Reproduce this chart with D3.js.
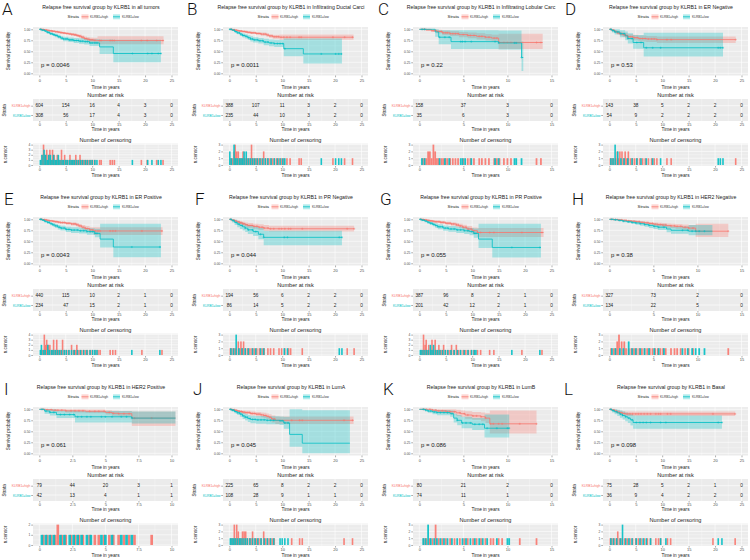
<!DOCTYPE html>
<html><head><meta charset="utf-8">
<script src="https://cdn.jsdelivr.net/npm/d3@7"></script>
<style>body{margin:0;background:#fff}</style>
</head><body>
<svg id="c" width="750" height="560"></svg>
<script>
// ---------------- DATA ----------------
const panelLetters = ["A","B","C","D","E","F","G","H","I","J","K","L"];
const subgroups = ["all tumors","Infiltrating Ductal Carci","Infiltrating Lobular Carc","ER Negative","ER Positive","PR Negative","PR Positive","HER2 Negative","HER2 Positive","LumA","LumB","Basal"];
const pValues = ["0.0046","0.0011","0.22","0.53","0.0043","0.044","0.055","0.38","0.061","0.045","0.086","0.098"];
const strataNames = ["KLRB1=high","KLRB1=low"];
const B25 = [0,5,10,15,20,25], B15 = [0,5,10,15], B10 = [0,2.5,5,7.5,10];
const xBreaks = [B25,B25,B15,B25,B25,B25,B25,B15,B10,B25,B15,B25];
const yBreaks = [0,0.25,0.5,0.75,1];
const riskHigh = [[604,154,16,4,3,0],[388,107,11,3,2,0],[158,37,3,0],[143,38,5,2,2,0],[440,115,10,2,1,0],[194,56,6,2,2,0],[387,96,8,2,1,0],[327,73,2,0],[79,44,20,3,1],[225,65,8,2,2,0],[80,21,2,0],[75,28,5,2,1,0]];
const riskLow  = [[308,56,17,4,3,0],[235,44,10,3,2,0],[35,6,3,0],[54,9,2,2,2,0],[234,47,15,2,1,0],[86,14,5,2,2,0],[201,42,12,2,1,0],[134,22,5,0],[42,13,4,1,1],[108,28,9,1,1,0],[74,11,1,0],[36,9,4,2,2,0]];

// Kaplan-Meier steps: [time, survival, lower CI, upper CI]
const survHigh = [
 [[0,1,1,1],[0.5,0.995,0.99,1],[1,0.985,0.975,0.995],[1.5,0.975,0.96,0.99],[2,0.965,0.95,0.98],[2.5,0.955,0.94,0.97],[3,0.945,0.93,0.96],[3.5,0.935,0.915,0.955],[4,0.925,0.905,0.945],[4.5,0.915,0.895,0.935],[5,0.905,0.88,0.93],[5.5,0.895,0.87,0.92],[6,0.885,0.855,0.915],[6.5,0.875,0.845,0.905],[7,0.86,0.825,0.895],[7.5,0.845,0.81,0.88],[8,0.82,0.78,0.86],[8.5,0.79,0.745,0.835],[9,0.775,0.725,0.825],[9.5,0.76,0.705,0.815],[10.2,0.75,0.69,0.81],[11,0.745,0.66,0.84],[23.5,0.745,0.66,0.84]],
 [[0,1,1,1],[0.5,0.99,0.98,1],[1,0.98,0.965,0.995],[1.5,0.97,0.95,0.985],[2,0.96,0.94,0.98],[2.5,0.95,0.93,0.97],[3,0.94,0.92,0.965],[3.5,0.93,0.905,0.955],[4,0.92,0.895,0.945],[5,0.905,0.875,0.935],[6,0.89,0.855,0.925],[7,0.87,0.83,0.91],[7.5,0.85,0.81,0.89],[8.2,0.83,0.785,0.875],[9.5,0.82,0.765,0.88],[23.5,0.82,0.765,0.88]],
 [[0,1,1,1],[0.8,0.99,0.97,1],[1.4,0.97,0.94,1],[2,0.95,0.91,0.99],[2.6,0.92,0.87,0.97],[3.5,0.9,0.845,0.955],[4.5,0.88,0.82,0.94],[5.5,0.86,0.795,0.925],[6.5,0.84,0.77,0.91],[7.5,0.82,0.745,0.895],[8.2,0.8,0.72,0.88],[9,0.7,0.55,0.9],[14,0.7,0.55,0.9]],
 [[0,1,1,1],[0.5,0.98,0.96,1],[1,0.95,0.92,0.985],[1.5,0.92,0.88,0.96],[2,0.9,0.855,0.945],[2.5,0.88,0.83,0.93],[3,0.86,0.805,0.915],[3.5,0.83,0.77,0.89],[4.5,0.81,0.745,0.875],[5.5,0.79,0.72,0.86],[7,0.78,0.71,0.85],[9,0.765,0.69,0.835],[23.9,0.765,0.69,0.835]],
 [[0,1,1,1],[0.5,0.995,0.99,1],[1,0.985,0.975,0.995],[1.5,0.975,0.96,0.99],[2,0.965,0.95,0.98],[2.5,0.955,0.935,0.975],[3,0.945,0.925,0.965],[3.5,0.935,0.91,0.96],[4,0.925,0.9,0.95],[5,0.91,0.88,0.94],[6,0.895,0.86,0.93],[7,0.875,0.835,0.915],[7.5,0.85,0.805,0.895],[8,0.82,0.77,0.87],[8.7,0.79,0.735,0.845],[9.5,0.76,0.7,0.82],[10.3,0.735,0.645,0.82],[23.3,0.735,0.645,0.82]],
 [[0,1,1,1],[0.5,0.98,0.96,1],[1,0.96,0.93,0.99],[1.5,0.94,0.905,0.975],[2,0.92,0.88,0.96],[2.5,0.9,0.855,0.945],[3,0.88,0.83,0.93],[3.5,0.86,0.81,0.915],[4.5,0.84,0.785,0.9],[5.5,0.82,0.76,0.885],[6.5,0.8,0.735,0.87],[7.5,0.785,0.72,0.855],[23.6,0.785,0.72,0.855]],
 [[0,1,1,1],[0.5,0.995,0.985,1],[1,0.985,0.97,0.995],[1.5,0.975,0.955,0.99],[2,0.965,0.945,0.985],[2.5,0.955,0.93,0.975],[3,0.945,0.92,0.97],[4,0.93,0.9,0.96],[5,0.91,0.875,0.945],[6,0.895,0.855,0.93],[7,0.87,0.825,0.915],[7.5,0.85,0.8,0.9],[8.2,0.82,0.765,0.875],[9,0.78,0.715,0.845],[10,0.74,0.665,0.815],[11,0.7,0.6,0.8],[23.5,0.7,0.6,0.8]],
 [[0,1,1,1],[0.5,0.995,0.985,1],[1,0.985,0.97,1],[1.5,0.975,0.955,0.995],[2,0.965,0.94,0.985],[2.5,0.955,0.93,0.98],[3,0.945,0.915,0.97],[3.5,0.93,0.9,0.96],[4,0.92,0.885,0.95],[4.5,0.905,0.87,0.94],[5,0.89,0.85,0.93],[5.5,0.88,0.835,0.92],[6,0.87,0.825,0.915],[6.5,0.86,0.81,0.905],[7,0.85,0.8,0.9],[7.5,0.84,0.785,0.895],[8.3,0.82,0.76,0.88],[9,0.8,0.73,0.87],[9.8,0.73,0.6,0.9],[13.5,0.73,0.6,0.9]],
 [[0,1,1,1],[0.5,0.99,0.97,1],[1,0.98,0.95,1],[2,0.965,0.93,1],[3.5,0.955,0.915,0.995],[5,0.93,0.88,0.98],[5.5,0.91,0.855,0.965],[6,0.9,0.84,0.96],[7,0.8,0.62,0.95],[10.3,0.8,0.62,0.95]],
 [[0,1,1,1],[0.5,0.99,0.975,1],[1,0.975,0.955,0.995],[1.5,0.96,0.935,0.985],[2,0.95,0.92,0.98],[2.5,0.935,0.9,0.97],[3,0.925,0.885,0.965],[4,0.905,0.86,0.95],[5,0.89,0.84,0.94],[6,0.875,0.82,0.93],[6.5,0.86,0.8,0.92],[7,0.84,0.775,0.905],[7.5,0.82,0.75,0.89],[8,0.78,0.7,0.86],[8.7,0.75,0.665,0.835],[23.5,0.75,0.665,0.835]],
 [[0,1,1,1],[1.5,0.98,0.94,1],[2,0.965,0.92,1],[3,0.955,0.905,1],[3.5,0.945,0.89,1],[4.2,0.92,0.85,0.99],[4.7,0.9,0.825,0.975],[5.2,0.87,0.785,0.955],[6,0.85,0.76,0.94],[7,0.83,0.73,0.93],[7.5,0.8,0.69,0.91],[8,0.67,0.45,0.97],[13.3,0.67,0.45,0.97]],
 [[0,1,1,1],[0.5,0.985,0.96,1],[1,0.96,0.925,0.995],[1.5,0.94,0.9,0.98],[2,0.92,0.875,0.965],[2.5,0.905,0.855,0.955],[3,0.895,0.845,0.95],[23.8,0.895,0.845,0.95]]
];
const survLow = [
 [[0,1,1,1],[0.5,0.98,0.97,0.995],[1,0.96,0.94,0.98],[1.5,0.93,0.9,0.96],[2,0.9,0.87,0.935],[2.5,0.88,0.845,0.915],[3,0.86,0.82,0.9],[3.5,0.83,0.79,0.875],[4,0.8,0.755,0.85],[4.5,0.78,0.73,0.83],[5.5,0.76,0.71,0.815],[6.5,0.745,0.69,0.805],[7.5,0.73,0.67,0.795],[8.5,0.72,0.655,0.79],[9.5,0.69,0.62,0.775],[11.4,0.6,0.44,0.77],[14,0.45,0.25,0.76],[23,0.45,0.25,0.76]],
 [[0,1,1,1],[0.5,0.98,0.96,0.995],[1,0.95,0.92,0.98],[1.5,0.92,0.885,0.955],[2,0.89,0.85,0.93],[2.5,0.86,0.815,0.905],[3,0.84,0.79,0.89],[3.5,0.81,0.76,0.865],[4,0.78,0.725,0.84],[4.5,0.76,0.7,0.82],[5.5,0.74,0.675,0.805],[6.5,0.71,0.64,0.785],[7.5,0.69,0.615,0.77],[8.5,0.675,0.595,0.765],[10.3,0.56,0.39,0.79],[14,0.44,0.22,0.79],[21.3,0.44,0.22,0.79]],
 [[0,1,1,1],[1.8,0.94,0.83,1],[2.2,0.82,0.66,0.98],[3.6,0.72,0.55,0.98],[9,0.69,0.54,0.97],[11.6,0.36,0.05,0.72],[11.8,0.36,0.05,0.72]],
 [[0,1,1,1],[0.5,0.97,0.93,1],[1,0.94,0.88,1],[2,0.9,0.82,0.98],[3,0.85,0.75,0.95],[3.5,0.79,0.68,0.91],[4.5,0.7,0.56,0.87],[6.5,0.58,0.38,0.92],[21.5,0.58,0.38,0.92]],
 [[0,1,1,1],[0.5,0.98,0.965,0.995],[1,0.955,0.93,0.98],[1.5,0.93,0.9,0.96],[2,0.9,0.865,0.935],[2.5,0.875,0.835,0.915],[3,0.85,0.805,0.895],[3.5,0.82,0.77,0.87],[4,0.8,0.745,0.855],[5,0.77,0.71,0.83],[6,0.755,0.69,0.82],[7.5,0.74,0.675,0.81],[9,0.72,0.65,0.795],[10.5,0.68,0.59,0.785],[11.5,0.55,0.36,0.9],[14,0.37,0.14,0.9],[23,0.37,0.14,0.9]],
 [[0,1,1,1],[0.5,0.97,0.93,1],[1,0.93,0.87,0.99],[1.5,0.89,0.82,0.96],[2,0.86,0.78,0.94],[2.5,0.83,0.745,0.915],[3,0.8,0.71,0.895],[3.5,0.76,0.665,0.87],[4.5,0.72,0.62,0.84],[5.5,0.66,0.545,0.8],[6.5,0.59,0.41,0.74],[21.3,0.59,0.41,0.74]],
 [[0,1,1,1],[0.5,0.98,0.96,0.995],[1,0.96,0.935,0.985],[1.5,0.935,0.9,0.97],[2,0.91,0.87,0.95],[2.5,0.885,0.84,0.93],[3,0.86,0.81,0.91],[3.5,0.83,0.775,0.885],[4.5,0.8,0.74,0.86],[5.5,0.78,0.715,0.845],[7,0.76,0.69,0.83],[8.5,0.74,0.665,0.815],[9.5,0.72,0.64,0.8],[10.3,0.68,0.58,0.79],[11.2,0.55,0.35,0.9],[13.8,0.36,0.13,0.9],[23,0.36,0.13,0.9]],
 [[0,1,1,1],[0.5,0.99,0.975,1],[1,0.975,0.955,0.995],[1.5,0.96,0.935,0.985],[2,0.945,0.915,0.975],[2.5,0.93,0.895,0.965],[3,0.915,0.875,0.955],[3.5,0.9,0.855,0.945],[4,0.88,0.83,0.93],[4.5,0.86,0.805,0.915],[5,0.84,0.78,0.9],[5.5,0.82,0.755,0.885],[6.5,0.78,0.705,0.855],[7,0.75,0.67,0.835],[9,0.73,0.64,0.87],[11.7,0.73,0.64,0.87]],
 [[0,1,1,1],[0.4,0.96,0.9,1],[0.8,0.93,0.86,1],[1.3,0.88,0.8,0.97],[2.7,0.83,0.7,0.96],[7,0.8,0.68,0.95],[10.3,0.8,0.68,0.95]],
 [[0,1,1,1],[0.5,0.98,0.95,1],[1,0.95,0.91,0.99],[1.5,0.92,0.87,0.97],[2,0.89,0.83,0.95],[2.5,0.85,0.78,0.92],[3,0.82,0.745,0.895],[3.5,0.79,0.71,0.87],[4,0.77,0.685,0.855],[5,0.76,0.67,0.85],[7,0.75,0.66,0.84],[9.5,0.74,0.645,0.835],[10.3,0.69,0.56,0.83],[11.4,0.43,0.15,1],[13.8,0.23,0,0.98],[22.8,0.23,0,0.98]],
 [[0,1,1,1],[0.7,0.98,0.95,1],[1,0.96,0.92,1],[1.5,0.94,0.89,0.99],[2,0.925,0.865,0.985],[3.5,0.9,0.83,0.97],[3.9,0.8,0.7,0.9],[4.3,0.75,0.64,0.87],[4.8,0.69,0.57,0.83],[6,0.66,0.53,0.8],[7.4,0.57,0.36,0.88],[10.2,0.57,0.36,0.88]],
 [[0,1,1,1],[0.5,0.97,0.93,1],[1,0.945,0.89,1],[1.5,0.92,0.85,0.99],[2,0.89,0.81,0.97],[2.5,0.86,0.77,0.95],[3,0.83,0.73,0.93],[3.5,0.8,0.69,0.91],[4,0.76,0.63,0.89],[4.5,0.7,0.56,0.86],[21.3,0.7,0.56,0.86]]
];

// Censoring: [time, number censored]
const censHigh = [
 [[0.3,1],[0.6,2],[0.8,4],[1.1,2],[1.4,3],[1.7,2],[2.0,3],[2.3,1],[2.5,3],[2.8,2],[3.1,1],[3.4,2],[3.7,1],[4.0,1],[4.2,3],[4.5,1],[4.8,2],[5.1,1],[5.4,1],[5.8,2],[6.1,1],[6.4,1],[6.7,1],[6.9,2],[7.2,1],[7.5,1],[7.7,2],[8.0,1],[8.3,1],[8.6,1],[8.9,1],[9.2,1],[9.5,1],[9.8,1],[10.1,1],[10.5,1],[11.4,1],[11.7,1],[13.4,1],[13.8,1],[14.2,1],[19.3,1],[20.4,1],[22.2,1],[23.4,1]],
 [[0.3,1],[0.6,1],[0.9,2],[1.1,3],[1.4,2],[1.7,2],[2.0,1],[2.3,1],[2.6,2],[2.9,1],[3.2,1],[3.5,1],[3.9,1],[4.2,3],[4.5,1],[4.9,1],[5.2,1],[5.6,1],[6.0,1],[6.5,2],[6.9,1],[7.3,1],[7.7,1],[8.1,1],[8.5,1],[8.9,1],[9.3,1],[9.8,1],[10.3,1],[10.9,1],[11.5,1],[13.2,1],[13.6,1],[19.6,1],[21.8,1],[23.3,1]],
 [[0.4,1],[0.6,1],[0.8,1],[1.0,2],[1.2,2],[1.4,1],[1.6,3],[1.8,2],[2.0,1],[2.2,1],[2.5,1],[2.7,1],[3.0,1],[3.2,1],[3.5,1],[3.8,1],[4.1,1],[4.4,1],[5.0,1],[5.5,1],[5.8,1],[6.2,1],[6.8,1],[7.1,1],[7.5,1],[7.9,1],[8.5,1],[8.8,1],[9.1,1],[9.6,1],[10.0,1],[10.4,1],[13.3,1],[13.8,1]],
 [[0.2,1],[0.5,1],[0.8,1],[1.2,1],[1.5,2],[1.8,1],[2.0,2],[2.4,2],[2.7,1],[3.0,2],[3.3,1],[3.6,2],[4.0,1],[4.4,1],[4.8,1],[5.3,1],[5.8,1],[6.3,1],[6.8,1],[7.4,1],[8.0,1],[8.5,1],[9.0,1],[10.9,1],[11.7,1],[23.9,1]],
 [[0.3,1],[0.6,1],[0.95,4],[1.2,2],[1.4,3],[1.7,2],[2.0,2],[2.4,1],[2.7,3],[3.0,1],[3.3,3],[3.6,1],[4.0,1],[4.4,3],[4.8,1],[5.2,1],[5.6,1],[6.1,2],[6.5,1],[6.8,1],[7.1,2],[7.5,1],[7.9,1],[8.3,1],[8.7,1],[9.1,1],[9.6,1],[10.0,1],[10.6,1],[11.1,1],[11.5,1],[13.4,1],[13.9,1],[14.4,1],[19.4,1],[23.2,1]],
 [[0.2,1],[0.5,1],[0.9,1],[1.2,1],[1.7,2],[2.0,1],[2.2,2],[2.5,1],[2.7,2],[3.1,1],[3.5,1],[3.9,1],[4.3,1],[4.7,1],[5.2,1],[5.7,1],[6.2,1],[6.6,1],[7.3,1],[7.8,1],[8.4,1],[9.4,1],[9.9,1],[10.5,1],[11.2,1],[11.6,1],[13.8,1],[22.3,1],[23.6,1]],
 [[0.3,1],[0.6,1],[0.8,4],[1.1,2],[1.3,3],[1.6,1],[1.8,2],[2.1,1],[2.4,3],[2.7,1],[3.0,3],[3.3,1],[3.7,2],[4.0,1],[4.3,1],[4.6,2],[5.0,1],[5.4,1],[5.8,1],[6.1,2],[6.5,1],[7.0,2],[7.4,1],[7.8,1],[8.3,1],[8.8,1],[9.3,1],[9.8,1],[10.3,1],[11.0,1],[11.6,1],[13.3,1],[14.1,1],[19.4,1],[23.2,1]],
 [[0.2,1],[0.5,1],[0.7,1],[0.9,2],[1.1,3],[1.4,2],[1.7,2],[1.9,1],[2.2,1],[2.5,1],[2.8,1],[3.1,1],[3.4,1],[3.7,1],[4.0,1],[4.3,1],[4.6,1],[4.9,1],[5.2,1],[5.5,1],[5.8,1],[6.1,1],[6.4,1],[7.0,1],[7.4,1],[7.7,1],[8.1,1],[8.6,1],[9.0,1],[9.5,1],[13.5,1]],
 [[0.3,1],[0.6,1],[0.9,1],[1.2,1],[1.4,2],[1.7,1],[2.0,1],[2.4,1],[2.7,1],[3.0,1],[3.3,1],[3.8,1],[4.2,1],[4.5,1],[4.9,1],[5.3,1],[5.6,1],[6.0,1],[6.4,1],[6.8,1],[7.2,1],[8.5,1]],
 [[0.3,1],[0.6,1],[0.95,3],[1.2,1],[1.4,3],[1.7,2],[2.0,1],[2.3,1],[2.5,2],[2.8,2],[3.1,2],[3.4,1],[3.8,1],[4.1,1],[4.4,2],[4.8,1],[5.2,1],[5.6,1],[6.0,1],[6.5,2],[6.9,1],[7.3,1],[7.7,1],[8.1,1],[8.5,1],[11.8,1],[13.3,1],[13.8,1],[21.7,1],[23.3,1]],
 [[0.5,1],[0.8,1],[1.2,1],[1.5,1],[1.85,3],[2.2,1],[2.6,1],[3.0,1],[3.5,1],[4.0,1],[4.6,1],[5.1,1],[5.5,1],[6.1,1],[6.5,1],[7.0,1],[7.5,1],[8.1,1],[8.4,1],[9.0,1],[9.4,1],[11.4,1],[13.3,1]],
 [[0.2,1],[0.5,1],[0.9,1],[1.3,1],[1.6,2],[2.0,1],[2.4,1],[2.9,1],[3.4,1],[3.9,1],[4.4,1],[5.0,1],[5.5,1],[6.0,1],[6.6,1],[7.2,1],[7.8,1],[8.8,1],[9.3,1],[9.7,1],[11.0,1],[11.6,1],[19.6,1],[23.8,1]]
];
const censLow = [
 [[0.2,1],[0.5,2],[0.9,3],[1.2,2],[1.5,1],[1.8,2],[2.1,2],[2.4,1],[2.7,2],[3.0,1],[3.3,1],[3.6,2],[3.9,1],[4.3,1],[4.6,1],[5.0,1],[5.3,1],[5.7,1],[6.0,1],[6.3,1],[6.6,1],[7.0,1],[7.4,1],[7.8,1],[8.2,1],[8.7,1],[9.1,1],[9.6,1],[10.0,1],[10.5,1],[10.9,1],[17.6,1],[20.5,1],[21.3,1],[22.5,1],[23.0,1]],
 [[0.1,2],[0.4,1],[0.9,3],[1.2,1],[1.5,1],[1.9,1],[2.2,1],[2.5,1],[2.8,2],[3.2,2],[3.6,1],[4.0,1],[4.4,1],[4.8,1],[5.3,1],[5.8,1],[6.3,1],[6.8,1],[7.3,1],[7.9,1],[8.5,1],[9.1,1],[9.6,1],[10.1,1],[10.5,1],[17.4,1],[20.1,1],[20.7,1],[21.2,1]],
 [[0.3,1],[0.6,1],[2.3,1],[2.9,1],[3.4,1],[4.7,1],[4.9,1],[5.2,1],[5.9,1],[8.6,1],[9.0,1],[10.8,1],[11.0,1],[11.6,1]],
 [[0.3,1],[0.7,1],[1.1,3],[1.6,2],[2.2,1],[2.8,1],[3.5,1],[4.3,1],[5.2,1],[6.0,1],[7.0,1],[8.2,1],[9.7,1],[20.6,1],[21.0,1],[21.5,1]],
 [[0.2,1],[0.4,2],[0.8,1],[1.1,1],[1.6,2],[1.9,1],[2.3,1],[2.6,1],[3.0,1],[3.4,1],[3.8,1],[4.2,1],[4.7,1],[5.1,1],[5.6,1],[6.1,1],[6.6,1],[7.2,1],[7.8,1],[8.4,1],[9.0,1],[9.6,1],[10.1,1],[10.5,1],[10.9,1],[17.5,1],[22.8,1]],
 [[0.3,1],[0.8,1],[1.3,3],[1.8,1],[2.4,1],[3.0,1],[3.6,1],[4.4,1],[5.0,1],[5.9,1],[6.5,1],[10.4,1],[11.0,1],[20.8,1],[21.3,1]],
 [[0.2,1],[0.5,1],[0.9,1],[1.3,1],[1.7,1],[2.1,2],[2.4,1],[2.7,2],[3.1,1],[3.5,1],[3.9,1],[4.4,1],[4.9,1],[5.4,1],[6.0,1],[6.6,1],[7.2,1],[7.8,1],[8.5,1],[9.2,1],[9.9,1],[10.4,1],[10.7,1],[17.5,1],[22.8,1]],
 [[0.3,1],[0.7,1],[1.2,1],[1.6,1],[2.2,2],[2.6,1],[3.0,1],[3.5,1],[4.0,1],[4.5,1],[5.1,1],[5.6,1],[6.2,1],[8.3,1],[8.9,1],[9.4,1],[9.8,1],[10.2,1],[10.8,1]],
 [[0.2,1],[0.5,1],[0.8,1],[1.1,1],[1.6,1],[1.9,1],[2.3,1],[2.6,1],[2.9,1],[3.2,1],[3.6,1],[3.9,1],[4.7,1],[5.0,1],[5.5,1],[6.2,1],[6.6,1],[7.0,1]],
 [[0.2,1],[0.5,1],[0.8,1],[1.1,1],[1.5,1],[1.9,1],[2.2,1],[2.6,1],[3.0,1],[3.4,1],[3.9,1],[4.4,1],[4.9,1],[5.4,1],[6.0,1],[6.6,1],[7.2,1],[7.8,1],[8.4,1],[9.6,1],[10.0,1],[10.5,1],[11.1,1]],
 [[0.45,1],[0.7,1],[1.0,3],[1.3,1],[1.7,1],[2.0,1],[2.4,1],[2.8,1],[3.2,1],[3.7,1],[4.3,1],[4.9,1],[5.3,1],[5.8,1],[6.3,1],[6.8,1],[7.2,1],[7.7,1],[8.8,1],[10.0,1],[10.2,1]],
 [[0.3,1],[0.8,1],[1.4,1],[2.1,1],[2.5,3],[3.1,1],[3.7,1],[4.3,1],[5.1,1],[5.8,1],[6.4,1],[7.0,1],[7.8,1],[9.7,1],[10.7,1],[20.6,1],[21.3,1]]
];

// ---------------- LAYOUT / STYLE ----------------
const RED = "#F8766D", CYAN = "#00BFC4", PANEL = "#EBEBEB", FONT = "Liberation Sans, Arial, sans-serif";
const colX = [0,190,380,570], rowY = [0,190,380];
const letterDx = [2,-3,-2,-5,4,5,0,2,4,3,3,-6];
const svg = d3.select("#c");

function stepVal(curve, t){ let v = curve[0]; for (const p of curve) if (p[0] <= t) v = p; return v[1]; }

function styleAxis(a, fs){
  a.select(".domain").remove();
  a.selectAll(".tick line").attr("stroke","#333").attr("stroke-width",0.4);
  a.selectAll(".tick text").attr("font-size",fs).attr("fill","#4D4D4D").attr("font-family",FONT);
  a.attr("font-size",null).attr("font-family",null);
}
function label(g, txt, x, y, fs, opts={}){
  const t = g.append("text").attr("x",x).attr("y",y).attr("font-size",fs).attr("font-family",FONT)
    .attr("fill",opts.fill||"#1a1a1a").attr("text-anchor",opts.anchor||"middle").text(txt);
  if (opts.rotate) t.attr("transform",`rotate(-90,${x},${y})`);
  return t;
}

function drawPanel(i){
  const ox = colX[i%4], oy = rowY[Math.floor(i/4)];
  const g = svg.append("g").attr("transform",`translate(${ox},${oy})`);
  const br = xBreaks[i], xmax = br[br.length-1];
  const x = d3.scaleLinear().domain([0,xmax]).range([39.3,171.5]);
  const minors = br.slice(1).map((b,j)=>(b+br[j])/2);
  const L = 33, R = 178;

  // letter + title + legend
  g.append("text").attr("x",letterDx[i]).attr("y",15).attr("font-size",17).attr("font-weight",300)
    .attr("font-family","Roboto, Liberation Sans, sans-serif").attr("fill","#111").text(panelLetters[i]);
  label(g, "Relapse free survival group by KLRB1 in " + subgroups[i], 101, 8.5, 5.2);
  label(g, "Strata", 79, 18.2, 4.3, {anchor:"end"});
  [[RED,81.5,90],[CYAN,113,122]].forEach(([c,kx,lx],k)=>{
    g.append("rect").attr("x",kx).attr("y",14.3).attr("width",7).attr("height",5).attr("fill",c).attr("fill-opacity",0.3);
    g.append("line").attr("x1",kx).attr("x2",kx+7).attr("y1",16.8).attr("y2",16.8).attr("stroke",c).attr("stroke-width",0.8);
    label(g, strataNames[k], lx, 18, 3.2, {anchor:"start", fill:"#333"});
  });

  // ---- survival plot ----
  const y = d3.scaleLinear().domain([0,1]).range([73.3,29.3]);
  const top = 27.1, bot = 75.5;
  g.append("rect").attr("x",L).attr("y",top).attr("width",R-L).attr("height",bot-top).attr("fill",PANEL);
  [0.125,0.375,0.625,0.875].forEach(v=>g.append("line").attr("x1",L).attr("x2",R).attr("y1",y(v)).attr("y2",y(v)).attr("stroke","#fff").attr("stroke-width",0.3));
  minors.forEach(v=>g.append("line").attr("x1",x(v)).attr("x2",x(v)).attr("y1",top).attr("y2",bot).attr("stroke","#fff").attr("stroke-width",0.3));
  yBreaks.forEach(v=>g.append("line").attr("x1",L).attr("x2",R).attr("y1",y(v)).attr("y2",y(v)).attr("stroke","#fff").attr("stroke-width",0.6));
  br.forEach(v=>g.append("line").attr("x1",x(v)).attr("x2",x(v)).attr("y1",top).attr("y2",bot).attr("stroke","#fff").attr("stroke-width",0.6));
  const cid = "clip"+i;
  g.append("clipPath").attr("id",cid).append("rect").attr("x",L).attr("y",top).attr("width",R-L).attr("height",bot-top);
  const pg = g.append("g").attr("clip-path",`url(#${cid})`);
  const groups = [[survHigh[i],censHigh[i],RED],[survLow[i],censLow[i],CYAN]];
  groups.forEach(([curve,,c])=>{
    pg.append("path").datum(curve).attr("fill",c).attr("fill-opacity",0.3)
      .attr("d",d3.area().curve(d3.curveStepAfter).x(d=>x(d[0])).y0(d=>y(d[2])).y1(d=>y(d[3])));
  });
  groups.forEach(([curve,cens,c])=>{
    pg.append("path").datum(curve).attr("fill","none").attr("stroke",c).attr("stroke-width",0.8)
      .attr("d",d3.line().curve(d3.curveStepAfter).x(d=>x(d[0])).y(d=>y(d[1])));
    cens.forEach(([t])=>{
      const cx = x(t), cy = y(stepVal(curve,t));
      pg.append("path").attr("d",`M${cx-1.1},${cy}H${cx+1.1}M${cx},${cy-1.1}V${cy+1.1}`).attr("stroke",c).attr("stroke-width",0.45);
    });
  });
  label(g, "p = " + pValues[i], 41, 67.2, 6, {anchor:"start", fill:"#222"});
  const ay = g.append("g").attr("transform",`translate(${L},0)`).call(d3.axisLeft(y).tickValues(yBreaks).tickFormat(d3.format(".2f")).tickSize(1.8).tickPadding(0.8));
  styleAxis(ay, 3.3);
  const ax = g.append("g").attr("transform",`translate(0,${bot})`).call(d3.axisBottom(x).tickValues(br).tickFormat(d=>d).tickSize(1.8).tickPadding(1.4));
  styleAxis(ax, 4.0);
  label(g, "Time in years", 105.5, 88.6, 4.7);
  label(g, "Survival probability", 9.5, 51, 4.6, {rotate:true});

  // ---- risk table ----
  label(g, "Number at risk", 105.5, 97, 5.6);
  const rt = 99, rb = 121;
  const ys = d3.scalePoint().domain(strataNames).range([105.7,115]);
  g.append("rect").attr("x",L).attr("y",rt).attr("width",R-L).attr("height",rb-rt).attr("fill",PANEL);
  minors.forEach(v=>g.append("line").attr("x1",x(v)).attr("x2",x(v)).attr("y1",rt).attr("y2",rb).attr("stroke","#fff").attr("stroke-width",0.3));
  br.forEach(v=>g.append("line").attr("x1",x(v)).attr("x2",x(v)).attr("y1",rt).attr("y2",rb).attr("stroke","#fff").attr("stroke-width",0.6));
  strataNames.forEach(s=>g.append("line").attr("x1",L).attr("x2",R).attr("y1",ys(s)).attr("y2",ys(s)).attr("stroke","#fff").attr("stroke-width",0.6));
  [[riskHigh[i],strataNames[0]],[riskLow[i],strataNames[1]]].forEach(([vals,s])=>{
    vals.forEach((v,j)=>{
      g.append("text").attr("x",x(br[j])).attr("y",ys(s)).attr("dy","0.35em").attr("text-anchor","middle")
        .attr("font-size",4.7).attr("font-family",FONT).attr("fill","#1a1a1a").text(v);
    });
  });
  const ary = g.append("g").attr("transform",`translate(${L},0)`).call(d3.axisLeft(ys).tickSize(1.8).tickPadding(0.8));
  styleAxis(ary, 3.3);
  ary.selectAll(".tick text").attr("fill",(d,k)=>k===0?RED:CYAN);
  const arx = g.append("g").attr("transform",`translate(0,${rb})`).call(d3.axisBottom(x).tickValues(br).tickFormat(d=>d).tickSize(1.6).tickPadding(0.8));
  styleAxis(arx, 4.0);
  label(g, "Time in years", 105.5, 131.4, 4.7);
  label(g, "Strata", 6, 110.4, 4.6, {rotate:true});

  // ---- censoring plot ----
  label(g, "Number of censoring", 105.5, 142.2, 5.6);
  const ct = 143.6, cb = 166;
  const allC = censHigh[i].concat(censLow[i]);
  const cmax = d3.max(allC, d=>d[1]);
  const yc = d3.scaleLinear().domain([-0.05*cmax, 1.05*cmax]).range([cb,ct]);
  g.append("rect").attr("x",L).attr("y",ct).attr("width",R-L).attr("height",cb-ct).attr("fill",PANEL);
  d3.range(0,cmax).forEach(v=>g.append("line").attr("x1",L).attr("x2",R).attr("y1",yc(v+0.5)).attr("y2",yc(v+0.5)).attr("stroke","#fff").attr("stroke-width",0.3));
  minors.forEach(v=>g.append("line").attr("x1",x(v)).attr("x2",x(v)).attr("y1",ct).attr("y2",cb).attr("stroke","#fff").attr("stroke-width",0.3));
  d3.range(0,cmax+1).forEach(v=>g.append("line").attr("x1",L).attr("x2",R).attr("y1",yc(v)).attr("y2",yc(v)).attr("stroke","#fff").attr("stroke-width",0.6));
  br.forEach(v=>g.append("line").attr("x1",x(v)).attr("x2",x(v)).attr("y1",ct).attr("y2",cb).attr("stroke","#fff").attr("stroke-width",0.6));
  const bw = Math.max(1.6, 0.2*(x(1)-x(0)));
  [[censHigh[i],RED],[censLow[i],CYAN]].forEach(([cens,c])=>{
    g.append("g").selectAll("rect").data(cens).join("rect")
      .attr("x",d=>x(d[0])-bw/2).attr("y",d=>yc(d[1])).attr("width",bw).attr("height",d=>yc(0)-yc(d[1]))
      .attr("fill",c).attr("fill-opacity",0.9);
  });
  const acy = g.append("g").attr("transform",`translate(${L},0)`).call(d3.axisLeft(yc).tickValues(d3.range(0,cmax+1)).tickFormat(d3.format("d")).tickSize(1.8).tickPadding(0.8));
  styleAxis(acy, 3.3);
  const acx = g.append("g").attr("transform",`translate(0,${cb})`).call(d3.axisBottom(x).tickValues(br).tickFormat(d=>d).tickSize(1.6).tickPadding(0.8));
  styleAxis(acx, 4.0);
  label(g, "Time in years", 105.5, 177.2, 4.7);
  label(g, "n.censor", 6.5, 154.5, 4.6, {rotate:true});
}
for (let i=0;i<12;i++) drawPanel(i);
</script>
</body></html>
